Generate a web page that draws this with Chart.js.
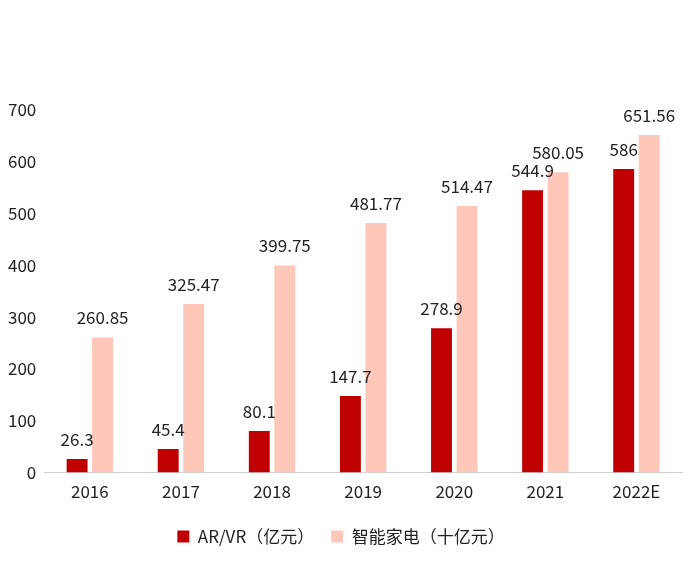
<!DOCTYPE html>
<html>
<head>
<meta charset="utf-8">
<script src="https://cdn.jsdelivr.net/npm/chart.js@4/dist/chart.umd.min.js"></script>
<style>
  html, body { margin: 0; padding: 0; background: #fff; }
  #wrap { width: 700px; height: 575px; }
</style>
</head>
<body>
<div id="wrap"><canvas id="c" width="700" height="575"></canvas></div>
<script>
// data
const years = ['2016', '2017', '2018', '2019', '2020', '2021', '2022E'];
const arvr = [26.3, 45.4, 80.1, 147.7, 278.9, 544.9, 586];
const smartHome = [260.85, 325.47, 399.75, 481.77, 514.47, 580.05, 651.56];
const seriesNames = ['AR/VR（亿元）', '智能家电（十亿元）'];

const FONT = '"Noto Sans CJK SC", "Noto Sans", sans-serif';

// draws the value above each bar
const valueLabels = {
  id: 'valueLabels',
  afterDatasetsDraw(chart) {
    const ctx = chart.ctx;
    ctx.save();
    ctx.font = '17px ' + FONT;
    ctx.fillStyle = '#222';
    ctx.textAlign = 'center';
    ctx.textBaseline = 'bottom';
    chart.data.datasets.forEach((ds, i) => {
      chart.getDatasetMeta(i).data.forEach((bar, j) => {
        ctx.fillText(String(ds.data[j]), bar.x, bar.y - 11);
      });
    });
    ctx.restore();
  }
};

new Chart(document.getElementById('c'), {
  type: 'bar',
  data: {
    labels: years,
    datasets: [
      { label: seriesNames[0], data: arvr, backgroundColor: '#C00000' },
      { label: seriesNames[1], data: smartHome, backgroundColor: '#FFC7B9' }
    ]
  },
  options: {
    responsive: false,
    animation: false,
    devicePixelRatio: 1,
    categoryPercentage: 0.56,
    barPercentage: 0.82,
    layout: { padding: { top: 110, right: 18, left: 0, bottom: 20 } },
    scales: {
      x: {
        grid: { display: false, drawTicks: false },
        border: { display: true, color: '#d0d0d0', width: 1 },
        ticks: { color: '#222', font: { family: FONT, size: 17 }, padding: 9 }
      },
      y: {
        min: 0, max: 700,
        grid: { display: false, drawTicks: false },
        border: { display: false },
        ticks: { stepSize: 100, color: '#222', font: { family: FONT, size: 17 }, padding: 8 }
      }
    },
    plugins: {
      legend: {
        position: 'bottom',
        labels: {
          color: '#222',
          font: { family: FONT, size: 17 },
          boxWidth: 12, boxHeight: 12,
          padding: 17
        }
      },
      tooltip: { enabled: false }
    }
  },
  plugins: [valueLabels]
});
</script>
</body>
</html>
